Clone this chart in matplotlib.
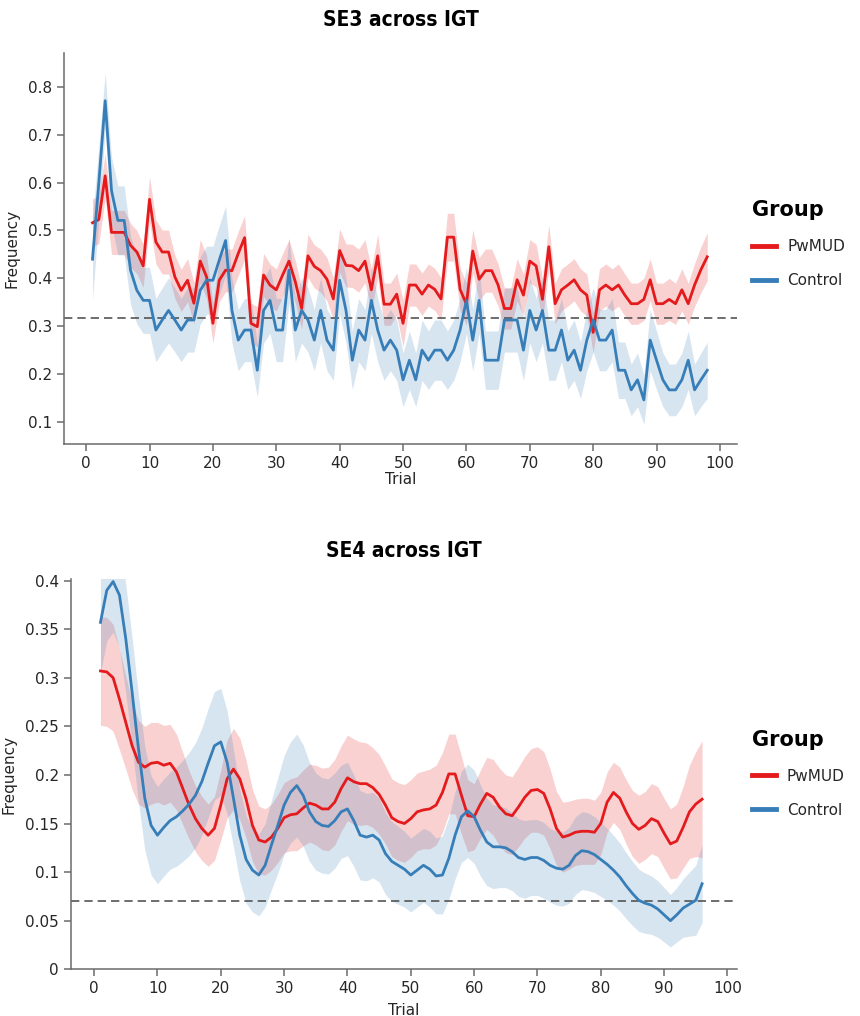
import numpy as np
import matplotlib
matplotlib.use('Agg')
import matplotlib.pyplot as plt
from matplotlib.lines import Line2D
from matplotlib.ticker import FuncFormatter

plt.rcParams['font.family'] = ['DejaVu Sans']

# SE3: raw frequency per trial (trials 1..98)
trials_top = list(range(1, 99))
pwmud_top = [0.516, 0.523, 0.614, 0.496, 0.496, 0.496, 0.469, 0.455, 0.426, 0.565,
             0.476, 0.455, 0.455, 0.403, 0.375, 0.396, 0.348, 0.436, 0.403, 0.306,
             0.396, 0.417, 0.416, 0.452, 0.485, 0.306, 0.299, 0.407, 0.386, 0.376,
             0.407, 0.436, 0.393, 0.337, 0.447, 0.425, 0.416, 0.398, 0.357, 0.458,
             0.427, 0.426, 0.416, 0.436, 0.376, 0.447, 0.346, 0.346, 0.367, 0.306,
             0.386, 0.386, 0.367, 0.386, 0.377, 0.357, 0.486, 0.486, 0.377, 0.346,
             0.457, 0.398, 0.416, 0.416, 0.386, 0.337, 0.337, 0.397, 0.365, 0.436,
             0.426, 0.356, 0.466, 0.347, 0.376, 0.386, 0.397, 0.376, 0.365, 0.287,
             0.376, 0.386, 0.376, 0.386, 0.365, 0.347, 0.347, 0.356, 0.397, 0.347,
             0.347, 0.356, 0.347, 0.376, 0.347, 0.386, 0.418, 0.445]
control_top = [0.440, 0.600, 0.771, 0.583, 0.521, 0.521, 0.417, 0.375, 0.354, 0.354,
               0.292, 0.313, 0.333, 0.313, 0.292, 0.313, 0.313, 0.375, 0.396, 0.396,
               0.438, 0.479, 0.333, 0.271, 0.292, 0.292, 0.208, 0.333, 0.354, 0.292,
               0.292, 0.417, 0.292, 0.333, 0.313, 0.271, 0.333, 0.271, 0.250, 0.396,
               0.333, 0.229, 0.292, 0.271, 0.354, 0.292, 0.250, 0.271, 0.250, 0.188,
               0.229, 0.188, 0.250, 0.229, 0.250, 0.250, 0.229, 0.250, 0.292, 0.354,
               0.271, 0.354, 0.229, 0.229, 0.229, 0.313, 0.313, 0.313, 0.250, 0.333,
               0.292, 0.333, 0.250, 0.250, 0.292, 0.229, 0.250, 0.208, 0.271, 0.313,
               0.271, 0.271, 0.292, 0.208, 0.208, 0.167, 0.188, 0.146, 0.271, 0.229,
               0.188, 0.167, 0.167, 0.188, 0.229, 0.167, 0.188, 0.208]
pwmud_top_se = [0.050, 0.050, 0.047, 0.046, 0.046, 0.046, 0.046, 0.045, 0.045, 0.047,
                0.046, 0.046, 0.046, 0.045, 0.044, 0.045, 0.043, 0.045, 0.045, 0.042,
                0.045, 0.045, 0.045, 0.046, 0.046, 0.042, 0.042, 0.045, 0.044, 0.044,
                0.045, 0.045, 0.044, 0.043, 0.045, 0.045, 0.045, 0.045, 0.044, 0.045,
                0.045, 0.045, 0.045, 0.045, 0.044, 0.045, 0.044, 0.044, 0.044, 0.049,
                0.044, 0.044, 0.044, 0.044, 0.044, 0.044, 0.050, 0.050, 0.044, 0.044,
                0.045, 0.045, 0.045, 0.045, 0.044, 0.043, 0.043, 0.044, 0.044, 0.045,
                0.045, 0.044, 0.046, 0.043, 0.044, 0.044, 0.044, 0.044, 0.044, 0.042,
                0.044, 0.044, 0.044, 0.044, 0.044, 0.043, 0.043, 0.044, 0.044, 0.043,
                0.043, 0.044, 0.043, 0.044, 0.043, 0.045, 0.048, 0.050]
control_top_se = [0.085, 0.075, 0.058, 0.070, 0.072, 0.072, 0.071, 0.070, 0.069, 0.069,
                  0.066, 0.067, 0.068, 0.067, 0.066, 0.067, 0.067, 0.070, 0.071, 0.071,
                  0.072, 0.072, 0.068, 0.064, 0.066, 0.066, 0.056, 0.068, 0.069, 0.066,
                  0.066, 0.068, 0.066, 0.068, 0.067, 0.064, 0.068, 0.064, 0.063, 0.071,
                  0.068, 0.061, 0.066, 0.064, 0.069, 0.066, 0.063, 0.064, 0.063, 0.056,
                  0.061, 0.056, 0.063, 0.061, 0.063, 0.063, 0.061, 0.063, 0.066, 0.069,
                  0.064, 0.069, 0.061, 0.061, 0.061, 0.067, 0.067, 0.067, 0.063, 0.068,
                  0.066, 0.068, 0.063, 0.063, 0.066, 0.061, 0.063, 0.059, 0.064, 0.067,
                  0.064, 0.064, 0.066, 0.059, 0.059, 0.054, 0.056, 0.051, 0.064, 0.061,
                  0.056, 0.054, 0.054, 0.056, 0.061, 0.054, 0.056, 0.059]

# SE4: smoothed frequency per trial (trials 1..96)
trials_bot = list(range(1, 97))
pwmud_bot = [0.307, 0.306, 0.300, 0.278, 0.254, 0.230, 0.213, 0.208, 0.212, 0.213,
             0.210, 0.212, 0.203, 0.186, 0.169, 0.155, 0.145, 0.138, 0.145, 0.169,
             0.196, 0.206, 0.196, 0.175, 0.148, 0.133, 0.131, 0.136, 0.145, 0.156,
             0.159, 0.160, 0.166, 0.171, 0.169, 0.165, 0.165, 0.172, 0.186, 0.197,
             0.193, 0.191, 0.191, 0.187, 0.180, 0.169, 0.156, 0.152, 0.150, 0.155,
             0.162, 0.164, 0.165, 0.169, 0.182, 0.201, 0.201, 0.179, 0.158, 0.157,
             0.170, 0.181, 0.177, 0.167, 0.160, 0.158, 0.167, 0.177, 0.184, 0.185,
             0.181, 0.165, 0.145, 0.136, 0.138, 0.141, 0.142, 0.142, 0.141, 0.150,
             0.172, 0.182, 0.176, 0.162, 0.150, 0.144, 0.148, 0.155, 0.152, 0.140,
             0.129, 0.132, 0.146, 0.162, 0.170, 0.175]
control_bot = [0.357, 0.390, 0.399, 0.385, 0.340, 0.285, 0.227, 0.176, 0.148, 0.138,
               0.146, 0.153, 0.157, 0.163, 0.170, 0.179, 0.193, 0.212, 0.230, 0.234,
               0.213, 0.176, 0.138, 0.113, 0.102, 0.097, 0.107, 0.128, 0.148, 0.169,
               0.182, 0.189, 0.179, 0.162, 0.152, 0.148, 0.147, 0.153, 0.162, 0.165,
               0.153, 0.138, 0.136, 0.138, 0.133, 0.119, 0.111, 0.107, 0.103, 0.097,
               0.102, 0.107, 0.103, 0.096, 0.097, 0.114, 0.138, 0.157, 0.163, 0.157,
               0.143, 0.131, 0.126, 0.126, 0.125, 0.121, 0.115, 0.113, 0.115, 0.115,
               0.112, 0.107, 0.104, 0.103, 0.107, 0.117, 0.122, 0.121, 0.118, 0.113,
               0.108, 0.102, 0.095, 0.086, 0.078, 0.071, 0.068, 0.066, 0.062, 0.056,
               0.050, 0.056, 0.063, 0.067, 0.071, 0.088]
pwmud_bot_se = [0.056, 0.056, 0.055, 0.052, 0.048, 0.045, 0.043, 0.042, 0.042, 0.041,
                0.041, 0.040, 0.039, 0.037, 0.035, 0.034, 0.033, 0.032, 0.033, 0.036,
                0.040, 0.042, 0.042, 0.040, 0.037, 0.035, 0.034, 0.034, 0.035, 0.036,
                0.037, 0.038, 0.039, 0.040, 0.041, 0.042, 0.043, 0.044, 0.044, 0.044,
                0.044, 0.043, 0.042, 0.041, 0.041, 0.040, 0.040, 0.040, 0.040, 0.040,
                0.040, 0.040, 0.041, 0.041, 0.041, 0.041, 0.041, 0.040, 0.037, 0.034,
                0.035, 0.037, 0.039, 0.040, 0.040, 0.040, 0.041, 0.042, 0.043, 0.044,
                0.043, 0.041, 0.038, 0.036, 0.035, 0.034, 0.034, 0.034, 0.033, 0.032,
                0.031, 0.031, 0.032, 0.033, 0.034, 0.035, 0.035, 0.036, 0.036, 0.036,
                0.036, 0.038, 0.042, 0.048, 0.054, 0.060]
control_bot_se = [0.052, 0.052, 0.052, 0.054, 0.056, 0.056, 0.055, 0.053, 0.051, 0.050,
                  0.050, 0.050, 0.051, 0.052, 0.053, 0.054, 0.055, 0.056, 0.056, 0.055,
                  0.053, 0.050, 0.047, 0.045, 0.043, 0.042, 0.043, 0.046, 0.049, 0.051,
                  0.052, 0.053, 0.052, 0.051, 0.050, 0.049, 0.049, 0.049, 0.048, 0.048,
                  0.047, 0.046, 0.045, 0.044, 0.043, 0.042, 0.041, 0.040, 0.039, 0.038,
                  0.038, 0.038, 0.039, 0.039, 0.040, 0.042, 0.045, 0.047, 0.048, 0.048,
                  0.047, 0.045, 0.043, 0.042, 0.041, 0.040, 0.040, 0.040, 0.039, 0.039,
                  0.039, 0.038, 0.038, 0.038, 0.039, 0.040, 0.040, 0.040, 0.039, 0.038,
                  0.037, 0.036, 0.035, 0.034, 0.033, 0.032, 0.031, 0.030, 0.029, 0.028,
                  0.027, 0.028, 0.030, 0.033, 0.036, 0.040]

chance_top = 0.317
chance_bot = 0.0703

red = '#e41a1c'
blue = '#377eb8'
spine_col = '#6b6b6b'
text_col = '#262626'


def style_axes(ax, xpad):
    for s in ['top', 'right']:
        ax.spines[s].set_visible(False)
    for s in ['left', 'bottom']:
        ax.spines[s].set_color(spine_col)
        ax.spines[s].set_linewidth(1.1)
    ax.tick_params(axis='both', colors=spine_col, labelcolor=text_col,
                   labelsize=11, length=5, width=1.1, direction='out')
    ax.set_xlabel('Trial', fontsize=11, color=text_col, labelpad=xpad)
    ax.set_ylabel('Frequency', fontsize=11, color=text_col, labelpad=6)


def draw_panel(ax, x, red_y, red_se, blue_y, blue_se, chance):
    x = np.array(x)
    for y, se, c in [(red_y, red_se, red), (blue_y, blue_se, blue)]:
        y = np.array(y)
        se = np.array(se)
        ax.fill_between(x, y - se, y + se, color=c, alpha=0.2, linewidth=0, zorder=1)
    ax.plot(x, red_y, color=red, lw=2.0, zorder=3)
    ax.plot(x, blue_y, color=blue, lw=2.0, zorder=3)
    ax.axhline(chance, color='#555555', lw=1.2, ls=(0, (5, 3)), zorder=2)


def add_legend(ax, y_anchor):
    handles = [Line2D([0], [0], color=red, lw=3.5), Line2D([0], [0], color=blue, lw=3.5)]
    leg = ax.legend(handles, ['PwMUD', 'Control'], title='Group', loc='upper left',
                    bbox_to_anchor=(1.013, y_anchor), frameon=False, fontsize=11,
                    handlelength=1.6, handletextpad=0.7, labelspacing=1.25,
                    alignment='left', borderaxespad=0)
    leg.get_title().set_fontsize(15)
    leg.get_title().set_fontweight('bold')
    for t in leg.get_texts():
        t.set_color(text_col)


title_font = dict(fontsize=15, fontweight='bold', fontstretch='condensed',
                  family=['Liberation Sans Narrow', 'DejaVu Sans'])

fig = plt.figure(figsize=(8.6, 10.16), dpi=100)

# top: SE3
ax1 = fig.add_axes([0.0744, 0.563, 0.7826, 0.385])
draw_panel(ax1, trials_top, pwmud_top, pwmud_top_se, control_top, control_top_se, chance_top)
ax1.set_xlim(-3.5, 102.7)
ax1.set_ylim(0.054, 0.871)
ax1.set_xticks(range(0, 101, 10))
ax1.set_yticks(np.arange(0.1, 0.81, 0.1))
ax1.yaxis.set_major_formatter(FuncFormatter(lambda v, p: '%g' % round(v, 2)))
style_axes(ax1, 1)
ax1.set_title('SE3 across IGT', pad=19, **title_font)
add_legend(ax1, 0.64)

# bottom: SE4
ax2 = fig.add_axes([0.0822, 0.046, 0.7747, 0.384])
draw_panel(ax2, trials_bot, pwmud_bot, pwmud_bot_se, control_bot, control_bot_se, chance_bot)
ax2.set_xlim(-3.7, 101.5)
ax2.set_ylim(0, 0.4015)
ax2.set_xticks(range(0, 101, 10))
ax2.set_yticks(np.arange(0, 0.401, 0.05))
ax2.yaxis.set_major_formatter(FuncFormatter(lambda v, p: '%g' % round(v, 2)))
style_axes(ax2, 5)
ax2.set_title('SE4 across IGT', pad=16, **title_font)
add_legend(ax2, 0.63)

fig.savefig('out.png', dpi=100)
